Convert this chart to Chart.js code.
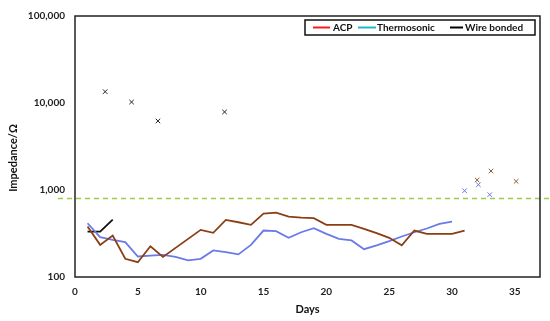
<!DOCTYPE html>
<html><head><meta charset="utf-8">
<script src="https://cdn.jsdelivr.net/npm/chart.js@4"></script>
<style>html,body{margin:0;padding:0;background:#fff}#wrap{width:550px;height:321px}</style>
</head><body><div id="wrap"><canvas id="c" width="550" height="321"></canvas></div>
<script>
const acpDays = [1,2,3,4,5,6,7,10,11,12,13,14,15,16,17,18,19,20,21,22,23,24,25,26,27,28,29,30,31];
const acpValues = [380,234,300,162,148,226,170,348,322,453,426,398,536,550,495,482,474,398,398,398,357,320,282,231,342,313,313,313,342];
const thermoDays = [1,2,3,4,5,6,7,8,9,10,11,12,13,14,15,16,17,18,19,20,21,22,23,24,25,26,27,28,29,30];
const thermoValues = [415,287,267,252,172,176,180,170,155,162,202,193,182,234,342,336,282,327,364,313,275,263,209,231,258,292,327,361,408,433];
const wireDays = [1,2,3];
const wireValues = [333,333,457];
const wireFailDays = [2.4,4.5,6.6,11.9];
const wireFailValues = [13500,10260,6220,7890];
const thermoFailDays = [31,32.1,33];
const thermoFailValues = [981,1150,885];
const acpFailDays = [32,33.1,35.1];
const acpFailValues = [1303,1652,1256];
const thresholdValue = [810];
const seriesLabels = ['ACP','Thermosonic','Wire bonded'];
const legendColors = ['#ff1a1a','#1bb8cc','#000000'];
const yTicks = [100,1000,10000,100000];
const xTicks = [0,5,10,15,20,25,30,35];

const pts = (xs, ys) => xs.map((x, i) => ({x, y: ys[i]}));
const FONT = 'Lato, "Open Sans", sans-serif';

const overlay = {
  id: 'overlay',
  beforeDatasetsDraw(chart) {
    const {ctx, chartArea: a, scales: {y}} = chart;
    const yy = Math.round(y.getPixelForValue(thresholdValue[0])) + 0.5;
    ctx.save();
    ctx.strokeStyle = '#9acd4a';
    ctx.lineWidth = 1.3;
    ctx.setLineDash([5, 4]);
    ctx.beginPath(); ctx.moveTo(a.left - 17, yy); ctx.lineTo(550, yy); ctx.stroke();
    ctx.restore();
  },
  afterDraw(chart) {
    const {ctx, chartArea: a} = chart;
    ctx.save();
    ctx.strokeStyle = '#222';
    ctx.lineWidth = 1.5;
    ctx.strokeRect(a.left, a.top, a.right - a.left, a.bottom - a.top);
    // legend
    const bx = 305, by = 20, bw = 230, bh = 15;
    ctx.fillStyle = '#fff';
    ctx.fillRect(bx, by, bw, bh);
    ctx.lineWidth = 1.5;
    ctx.strokeStyle = '#111';
    ctx.strokeRect(bx, by, bw, bh);
    ctx.font = 'bold 10px ' + FONT;
    ctx.textBaseline = 'middle';
    ctx.fillStyle = '#111';
    const items = [[313, 330, 333], [358, 376, 377], [450, 463, 465]];
    items.forEach((it, i) => {
      ctx.strokeStyle = legendColors[i];
      ctx.lineWidth = 2;
      ctx.beginPath(); ctx.moveTo(it[0], by + bh/2); ctx.lineTo(it[1], by + bh/2); ctx.stroke();
      ctx.fillText(chart.data.datasets[i].label, it[2], by + bh/2 + 0.5);
    });
    // axis titles
    ctx.font = 'bold 11px ' + FONT;
    ctx.textAlign = 'center';
    ctx.fillText('Days', (a.left + a.right) / 2, 309);
    ctx.translate(13, 158);
    ctx.rotate(-Math.PI / 2);
    ctx.fillText('Impedance/\u03a9', 0, 0);
    ctx.restore();
  }
};

new Chart(document.getElementById('c'), {
  type: 'scatter',
  data: {
    datasets: [
      {label: seriesLabels[0], data: pts(acpDays, acpValues), showLine: true, borderColor: '#8b3f14', borderWidth: 1.8, pointRadius: 0, tension: 0},
      {label: seriesLabels[1], data: pts(thermoDays, thermoValues), showLine: true, borderColor: '#6a7ae6', borderWidth: 1.8, pointRadius: 0, tension: 0},
      {label: seriesLabels[2], data: pts(wireDays, wireValues), showLine: true, borderColor: '#111', borderWidth: 1.8, pointRadius: 0, tension: 0},
      {label: 'wf', data: pts(wireFailDays, wireFailValues), pointStyle: 'crossRot', pointRadius: 3.2, borderColor: '#222', borderWidth: 1},
      {label: 'tf', data: pts(thermoFailDays, thermoFailValues), pointStyle: 'crossRot', pointRadius: 3.2, borderColor: '#6a7ae6', borderWidth: 1},
      {label: 'af', data: pts(acpFailDays, acpFailValues), pointStyle: 'crossRot', pointRadius: 3.2, borderColor: '#8b5a2b', borderWidth: 1}
    ]
  },
  options: {
    responsive: false,
    animation: false,
    layout: {padding: {top: 15, right: 10, left: 0, bottom: 0}},
    plugins: {legend: {display: false}, tooltip: {enabled: false}},
    scales: {
      x: {
        type: 'linear', min: 0, max: 37,
        grid: {display: false, drawTicks: false},
        border: {display: false},
        afterFit: s => { s.height = 44; },
        afterBuildTicks: s => { s.ticks = xTicks.map(v => ({value: v})); },
        ticks: {padding: 9, color: '#222', font: {family: FONT, size: 10, weight: 'bold'}, maxRotation: 0}
      },
      y: {
        type: 'logarithmic', min: 100, max: 100000,
        grid: {display: false, drawTicks: false},
        border: {display: false},
        afterFit: s => { s.width = 75; },
        afterBuildTicks: s => { s.ticks = yTicks.map(v => ({value: v})); },
        ticks: {padding: 10, color: '#222', font: {family: FONT, size: 10, weight: 'bold'},
          callback: v => Number(v).toLocaleString('en-US')}
      }
    }
  },
  plugins: [overlay]
});
</script></body></html>
